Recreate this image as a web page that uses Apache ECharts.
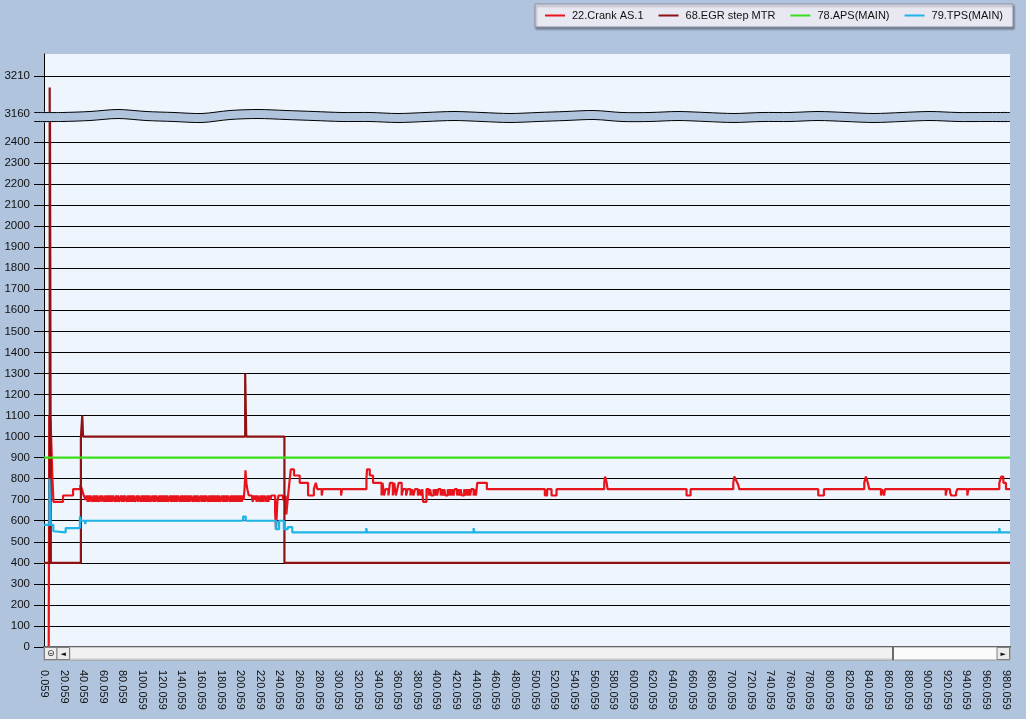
<!DOCTYPE html>
<html lang="en">
<head>
<meta charset="UTF-8">
<title>Crank / EGR / APS / TPS</title>
<script src="https://cdn.jsdelivr.net/npm/echarts@6/dist/echarts.min.js"></script>
<style>
    html, body { margin: 0; padding: 0; background: #b0c4de; }
    #chart { width: 1026px; height: 719px; }
</style>
</head>
<body>
<div id="chart"></div>
<script>
    // time of the first sample; x values below are seconds after it
    var xOffset = 0.059;
    var xEnd = 984.4;

    var yTicksLow = [0, 100, 200, 300, 400, 500, 600, 700, 800, 900, 1000, 1100, 1200,
        1300, 1400, 1500, 1600, 1700, 1800, 1900, 2000, 2100, 2200, 2300, 2400];
    var yTicksHigh = [3160, 3210];

    // 68.EGR step MTR  [t, value]
    var egrStep = [[0, 400], [5.8, 3195], [7.0, 400], [37.6, 1000], [39.0, 1100], [39.8, 1000],
        [205.0, 1300], [206.1, 1000], [245.0, 400], [984.4, 400]];

    // 78.APS(MAIN)
    var apsMain = [[0, 900], [984.4, 900]];

    // 79.TPS(MAIN)
    var tpsMain = [[0, 580], [5.5, 800], [6.8, 580], [9.5, 550], [11, 545], [22.1, 565],
        [36.6, 620], [37.8, 600], [41.9, 585], [42.8, 600], [202.9, 620], [205.6, 600],
        [236.2, 560], [239.6, 600], [244.4, 560], [248.4, 570], [253, 545], [328.4, 565],
        [329.2, 545], [437.8, 565], [438.6, 545], [973.5, 565], [974.2, 545], [984.4, 545]];

    // 22.Crank AS.1 - plain parts [t, value]
    var crankHead = [[4.8, 0], [5.4, 1100], [6.6, 1080], [7.6, 950], [8.6, 800], [9.6, 690],
        [19.4, 720], [29.6, 750], [37.1, 770], [38.6, 750], [40.5, 720], [42.5, 700]];
    var crankMid1 = [[204.5, 760], [205.3, 840], [206.2, 780], [207.2, 750], [208.7, 720]];
    var crankMid2 = [[233.7, 720], [235.5, 640], [236.5, 560], [237.8, 690], [239, 720],
        [243.5, 700], [246, 720], [247, 630], [248.3, 700], [249.4, 750], [250.5, 800],
        [251.5, 844], [254.8, 815], [260.6, 780], [269.1, 720], [275, 750], [277, 780],
        [278.5, 750], [283, 720], [284, 750], [302.7, 720], [303.7, 750], [328.6, 800],
        [329.2, 844], [332, 815], [335.3, 780], [344, 720]];
    var crankMid3 = [[385.5, 750], [386.3, 690], [389.8, 750]];
    var crankTail = [[441.5, 780], [451.3, 750], [510.4, 720], [512.7, 750], [517.2, 720],
        [522.3, 750], [570.9, 780], [571.8, 810], [573.4, 780], [574.3, 750], [654.8, 720],
        [658.9, 750], [702.4, 780], [703.5, 810], [705.5, 790], [707.5, 770], [708.5, 750],
        [789, 720], [794.8, 750], [835.9, 780], [837.5, 810], [839.5, 780], [841, 750],
        [852.9, 720], [854, 750], [856, 720], [857.1, 750], [918.9, 720], [920, 750],
        [923.3, 735], [924.5, 720], [929.5, 735], [930.7, 750], [940.9, 720], [942, 750],
        [973.5, 780], [975.5, 810], [977.6, 780], [980.3, 750], [984.4, 750]];

    // 22.Crank AS.1 - fast toggling stretches, one value per sample
    var crankBurst1Start = 43.5, crankBurst1Step = 1.0;
    var crankBurst1 = [
        720, 690, 720, 690, 720, 720, 690, 720, 690, 720,
        690, 720, 690, 690, 720, 690, 720, 720, 690, 720,
        690, 720, 690, 720, 690, 720, 690, 720, 720, 690,
        720, 690, 720, 690, 690, 720, 690, 720, 690, 720,
        720, 690, 720, 690, 720, 690, 720, 690, 720, 690,
        690, 720, 690, 720, 720, 690, 720, 690, 720, 690,
        720, 690, 720, 690, 720, 690, 690, 720, 690, 720,
        690, 720, 720, 690, 720, 690, 720, 690, 720, 690,
        720, 690, 720, 690, 690, 720, 690, 720, 690, 720,
        690, 720, 690, 720, 720, 690, 720, 690, 720, 690,
        720, 690, 720, 690, 720, 690, 720, 720, 690, 720,
        690, 720, 690, 720, 690, 690, 720, 690, 720, 690,
        720, 690, 720, 720, 690, 720, 690, 720, 690, 720,
        690, 720, 690, 720, 690, 720, 690, 690, 720, 690,
        720, 690, 720, 690, 720, 720, 690, 720, 690, 720,
        690, 720, 690, 720, 690, 720, 690, 720, 690, 720,
        700];
    var crankBurst2Start = 211.7, crankBurst2Step = 1.0;
    var crankBurst2 = [720, 690, 720, 700, 720, 690, 720, 720, 690, 720, 690,
        720, 690, 720, 720, 690, 720, 690, 720, 700, 720, 720];
    var crankBurst3Start = 345, crankBurst3Step = 1.5;
    var crankBurst3 = [780, 720, 750, 750, 720, 780, 780, 720, 780, 720, 750, 780, 780, 720,
        750, 750, 720, 750, 750, 720, 750, 720, 750, 750, 720, 750, 720];
    var crankBurst4Start = 391, crankBurst4Step = 1.2;
    var crankBurst4 = [750, 720, 750, 720, 720, 750, 720, 750, 720, 750, 750, 720, 750, 720,
        750, 720, 720, 750, 720, 750, 720, 750, 720, 750, 750, 720, 750, 720, 750, 720,
        720, 750, 720, 750, 720, 750, 720, 750, 750, 720, 750, 720];

    function burst(start, step, vals) {
        return vals.map(function (v, i) { return [start + i * step, v]; });
    }

    var crankAS = [].concat(
        crankHead,
        burst(crankBurst1Start, crankBurst1Step, crankBurst1),
        crankMid1,
        burst(crankBurst2Start, crankBurst2Step, crankBurst2),
        crankMid2,
        burst(crankBurst3Start, crankBurst3Step, crankBurst3),
        crankMid3,
        burst(crankBurst4Start, crankBurst4Step, crankBurst4),
        crankTail
    );

    var xTicks = [];
    for (var t = 0; t <= 980; t += 20) xTicks.push(t);

    var FONT = 'Liberation Sans';
    var names = ['22.Crank AS.1', '68.EGR step MTR', '78.APS(MAIN)', '79.TPS(MAIN)'];
    var colors = ['#e8141c', '#8e1212', '#3ade1a', '#1eb4e6'];

    // wavy break band between the two y ranges (decoration only)
    var waveOff = [0, 0, -1, -3, -1, 0, 1, -2, -3, -2, -1, 0, 0, 1, 0, -1, 0, 1, 0, -1,
        -2, 0, 0, -1, 0, 1, 0, 0, -1, 0, 1, 0, -1, 0, 0, 0];
    var bandTop = [], bandBot = [];
    waveOff.forEach(function (o, i) {
        var x = Math.min(34 + i * 28, 1010);
        bandTop.push([x, 112.5 + o]);
        bandBot.push([x, 121.5 + o]);
    });
    var bandPoly = bandTop.concat(bandBot.slice().reverse());

    function lineSeries(name, data, color, idx) {
        return {
            name: name,
            type: 'line',
            data: data,
            xAxisIndex: idx,
            yAxisIndex: idx,
            step: 'end',
            symbol: 'none',
            showSymbol: false,
            clip: true,
            lineStyle: {color: color, width: 2.2},
            itemStyle: {color: color},
            emphasis: {disabled: true}
        };
    }

    function plain(v) { return String(v); }
    var yLabel = {fontFamily: FONT, fontSize: 11.5, color: '#111', margin: 14, formatter: plain};

    var myChart = echarts.init(document.getElementById('chart'));
    myChart.setOption({
        animation: false,
        backgroundColor: '#b0c4de',
        legend: {
            data: names,
            left: 535,
            top: 4,
            padding: [6, 10, 6, 10],
            itemGap: 15,
            itemWidth: 20,
            itemHeight: 2,
            icon: 'rect',
            backgroundColor: '#e8e8f3',
            borderColor: '#8c8ca0',
            borderWidth: 1,
            shadowBlur: 2,
            shadowOffsetX: 1,
            shadowOffsetY: 2,
            shadowColor: 'rgba(0,0,0,0.35)',
            textStyle: {fontFamily: FONT, fontSize: 11, color: '#111', padding: [0, 0, 0, 2]}
        },
        grid: [
            {left: 44, right: 16, top: 54, height: 60, show: true, backgroundColor: '#eef5fd',
                borderWidth: 0, outerBoundsMode: 'none'},
            {left: 44, right: 16, top: 114, bottom: 59, show: true, backgroundColor: '#eef5fd',
                borderWidth: 0, outerBoundsMode: 'none'}
        ],
        xAxis: [
            {type: 'value', gridIndex: 0, min: 0, max: xEnd, show: false},
            {
                type: 'value', gridIndex: 1, min: 0, max: xEnd,
                axisLine: {show: true, lineStyle: {color: '#333', width: 2}},
                axisTick: {show: true, length: 8, customValues: xTicks, lineStyle: {color: '#222'}},
                axisLabel: {
                    customValues: xTicks, rotate: -90, margin: 10,
                    fontFamily: FONT, fontSize: 11, color: '#111',
                    formatter: function (v) { return (v + xOffset).toFixed(3); }
                },
                splitLine: {show: false}
            }
        ],
        yAxis: [
            {
                type: 'value', gridIndex: 0, min: 3160, max: 3239,
                axisLine: {show: true, lineStyle: {color: '#000', width: 1}},
                axisTick: {show: true, length: 10, customValues: yTicksHigh, lineStyle: {color: '#000'}},
                axisLabel: Object.assign({customValues: yTicksHigh}, yLabel),
                splitLine: {show: true, lineStyle: {color: '#000', width: 1}}
            },
            {
                type: 'value', gridIndex: 1, min: -61.8, max: 2533,
                axisLine: {show: true, lineStyle: {color: '#000', width: 1}},
                axisTick: {show: true, length: 10, customValues: yTicksLow, lineStyle: {color: '#000'}},
                axisLabel: Object.assign({customValues: yTicksLow}, yLabel),
                splitLine: {show: true, lineStyle: {color: '#000', width: 1}}
            }
        ],
        series: [
            lineSeries(names[0], crankAS, colors[0], 1),
            lineSeries(names[1], egrStep, colors[1], 1),
            lineSeries(names[2], apsMain, colors[2], 1),
            lineSeries(names[3], tpsMain, colors[3], 1),
            lineSeries(names[1], egrStep, colors[1], 0)
        ],
        graphic: [
            // break band
            {type: 'polygon', z: 100, shape: {points: bandPoly, smooth: 0.3},
                style: {fill: '#b0c4de', stroke: null}},
            {type: 'polyline', z: 101, shape: {points: bandTop, smooth: 0.3},
                style: {stroke: '#000', lineWidth: 1, fill: null}},
            {type: 'polyline', z: 101, shape: {points: bandBot, smooth: 0.3},
                style: {stroke: '#000', lineWidth: 1, fill: null}},
            // scroll bar under the plot
            {type: 'rect', z: 100, shape: {x: 44, y: 647, width: 966, height: 13},
                style: {fill: '#fbfbfb', stroke: '#9a9a9a', lineWidth: 1}},
            {type: 'rect', z: 101, shape: {x: 70, y: 647.5, width: 823, height: 11.5},
                style: {fill: '#f1f1f1', stroke: '#c8c8c8', lineWidth: 1}},
            {type: 'line', z: 102, shape: {x1: 893, y1: 647, x2: 893, y2: 660},
                style: {stroke: '#444', lineWidth: 1.5}},
            {type: 'rect', z: 101, shape: {x: 44.5, y: 647.5, width: 12.5, height: 12},
                style: {fill: '#ececec', stroke: '#808080', lineWidth: 1}},
            {type: 'rect', z: 101, shape: {x: 57, y: 647.5, width: 12.5, height: 12},
                style: {fill: '#ececec', stroke: '#808080', lineWidth: 1}},
            {type: 'rect', z: 101, shape: {x: 997, y: 647.5, width: 12.5, height: 12},
                style: {fill: '#ececec', stroke: '#808080', lineWidth: 1}},
            {type: 'text', z: 103, x: 50.7, y: 654, style: {text: '\u229D', fontSize: 9,
                fontFamily: 'DejaVu Sans', fill: '#222', align: 'center', verticalAlign: 'middle'}},
            {type: 'text', z: 103, x: 63.3, y: 654, style: {text: '\u25C4', fontSize: 7,
                fontFamily: 'DejaVu Sans', fill: '#111', align: 'center', verticalAlign: 'middle'}},
            {type: 'text', z: 103, x: 1003.3, y: 654, style: {text: '\u25BA', fontSize: 7,
                fontFamily: 'DejaVu Sans', fill: '#111', align: 'center', verticalAlign: 'middle'}}
        ]
    });
</script>
</body>
</html>
